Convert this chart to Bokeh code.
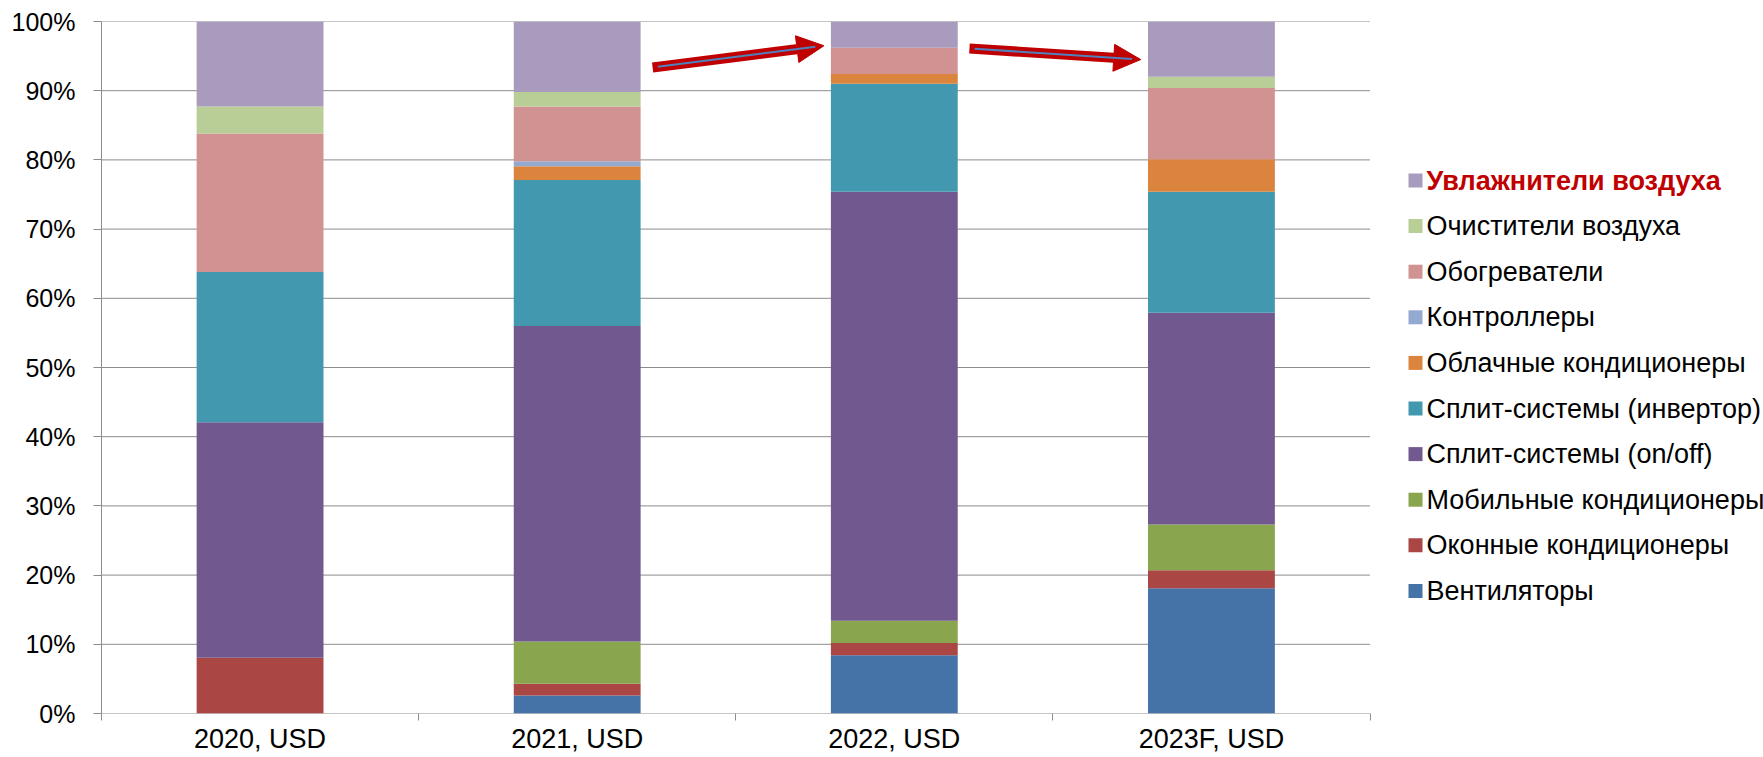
from bokeh.plotting import figure
from bokeh.models import (Range1d, FixedTicker, PrintfTickFormatter, CustomJSTickFormatter,
                          Arrow, NormalHead, ColumnDataSource)
from bokeh.core.properties import value
from bokeh.embed import file_html
from bokeh.resources import INLINE

# ---------------- data ----------------
categories = ["2020, USD", "2021, USD", "2022, USD", "2023F, USD"]

series_names = [
    "Вентиляторы",
    "Оконные кондиционеры",
    "Мобильные кондиционеры",
    "Сплит-системы (on/off)",
    "Сплит-системы (инвертор)",
    "Облачные кондиционеры",
    "Контроллеры",
    "Обогреватели",
    "Очистители воздуха",
    "Увлажнители воздуха",
]

fans = [0.0, 2.6, 8.4, 18.1]
window_ac = [8.05, 1.7, 1.8, 2.6]
mobile_ac = [0.0, 6.1, 3.2, 6.6]
split_onoff = [34.05, 45.6, 62.0, 30.6]
split_inverter = [21.7, 21.1, 15.6, 17.5]
cloud_ac = [0.0, 2.0, 1.4, 4.7]
controllers = [0.0, 0.7, 0.0, 0.0]
heaters = [20.0, 7.9, 3.8, 10.3]
purifiers = [3.9, 2.1, 0.0, 1.6]
humidifiers = [12.3, 10.2, 3.8, 8.0]

series_values = [fans, window_ac, mobile_ac, split_onoff, split_inverter,
                 cloud_ac, controllers, heaters, purifiers, humidifiers]

colors = ["#4572A7", "#AA4643", "#89A54E", "#71588F", "#4198AF",
          "#DB843D", "#93A9CF", "#D19392", "#B9CD96", "#A99BBD"]

y_ticks = list(range(0, 101, 10))

# trend arrows (data units: category index, percent)
arrow_starts = [(1.738, 93.35), (2.737, 96.1)]
arrow_ends = [(2.278, 96.5), (3.277, 94.5)]

FONT = "Liberation Sans"
GRID = "#8C8C8C"
RED = "#C00000"

# ---------------- layout constants (pixels) ----------------
W, H = 1763, 757
LEFT, TOP, BOTTOM = 101, 21, 44
frame_w = W - LEFT
frame_h = H - TOP - BOTTOM
cat_px = 1268.5 / len(categories)       # width of one category slot
x_end = frame_w / cat_px                # frame extends over the legend area
px_per_pct = frame_h / 100.0


def px_x(px):
    return (px - LEFT) / cat_px


def px_y(py):
    return (TOP + frame_h - py) / px_per_pct


# ---------------- main chart ----------------
xs = [i + 0.5 for i in range(len(categories))]
keys = [f"s{i}" for i in range(len(series_names))]
data = {"x": xs}
for k, v in zip(keys, series_values):
    data[k] = v
source = ColumnDataSource(data)

p = figure(width=W, height=H, output_backend="svg", toolbar_location=None,
           x_range=Range1d(0, x_end), y_range=Range1d(0, 100),
           min_border_left=LEFT, min_border_right=0, min_border_top=TOP,
           min_border_bottom=BOTTOM)
p.outline_line_color = None
p.background_fill_color = "white"
p.border_fill_color = "white"
p.xgrid.grid_line_color = None
p.ygrid.grid_line_color = None

# horizontal gridlines, only across the category area
n = len(y_ticks)
p.segment(x0=[0] * n, y0=y_ticks, x1=[len(categories)] * n, y1=y_ticks,
          line_color=GRID, line_width=1)

p.vbar_stack(keys, x="x", width=0.4, color=colors, line_color=None, source=source)

# y axis
p.yaxis.ticker = FixedTicker(ticks=y_ticks, minor_ticks=[])
p.yaxis.formatter = PrintfTickFormatter(format="%d%%")
p.yaxis.axis_line_color = GRID
p.yaxis.major_tick_line_color = GRID
p.yaxis.major_tick_out = 8
p.yaxis.major_tick_in = 0
p.yaxis.minor_tick_line_color = None
p.yaxis.major_label_standoff = 18
p.yaxis.major_label_text_font = FONT
p.yaxis.major_label_text_font_size = "25px"
p.yaxis.major_label_text_color = "black"

# x axis (line itself is the 0% gridline)
p.xaxis.ticker = FixedTicker(ticks=xs, minor_ticks=list(range(len(categories) + 1)))
p.xaxis.formatter = CustomJSTickFormatter(args=dict(labels=categories),
                                          code="return labels[Math.floor(tick)];")
p.xaxis.axis_line_color = None
p.xaxis.major_tick_line_color = None
p.xaxis.major_tick_out = 0
p.xaxis.major_tick_in = 0
p.xaxis.minor_tick_line_color = GRID
p.xaxis.minor_tick_out = 7
p.xaxis.minor_tick_in = 0
p.xaxis.major_label_standoff = 3
p.xaxis.major_label_text_font = FONT
p.xaxis.major_label_text_font_size = "27px"
p.xaxis.major_label_text_color = "black"

# arrows
for (x0, y0), (x1, y1) in zip(arrow_starts, arrow_ends):
    p.add_layout(Arrow(x_start=x0, y_start=y0, x_end=x1, y_end=y1,
                       line_color=RED, line_width=10,
                       end=NormalHead(size=27, fill_color=RED, line_color=RED)))
    bx0 = x0 + (x1 - x0) * 0.03
    by0 = y0 + (y1 - y0) * 0.03
    bx1 = x0 + (x1 - x0) * 0.95
    by1 = y0 + (y1 - y0) * 0.95
    p.add_layout(Arrow(x_start=bx0, y_start=by0, x_end=bx1, y_end=by1,
                       line_color="#4F81BD", line_width=2, end=None))

# ---------------- legend (drawn in the right-hand area) ----------------
order = list(range(len(series_names)))[::-1]  # top row = last series
row_y0, row_dy = 180, 45.6
ly = [px_y(row_y0 + row_dy * i) for i in range(len(order))]
lnames = [series_names[j] for j in order]
lcolors = [colors[j] for j in order]
lsrc = ColumnDataSource(dict(x=[px_x(1415)] * len(order), tx=[px_x(1426)] * len(order),
                             y=ly, name=lnames, color=lcolors,
                             tcolor=[RED] + ["black"] * (len(order) - 1),
                             tstyle=["bold"] + ["normal"] * (len(order) - 1)))
p.scatter(x="x", y="y", marker="square", size=14, fill_color="color",
          line_color=None, source=lsrc)
p.text(x="tx", y="y", text="name", source=lsrc, text_font=value(FONT),
       text_font_size="27px", text_baseline="middle", text_align="left",
       text_color="tcolor", text_font_style="tstyle")

open("out.html", "w").write(file_html(p, INLINE))
